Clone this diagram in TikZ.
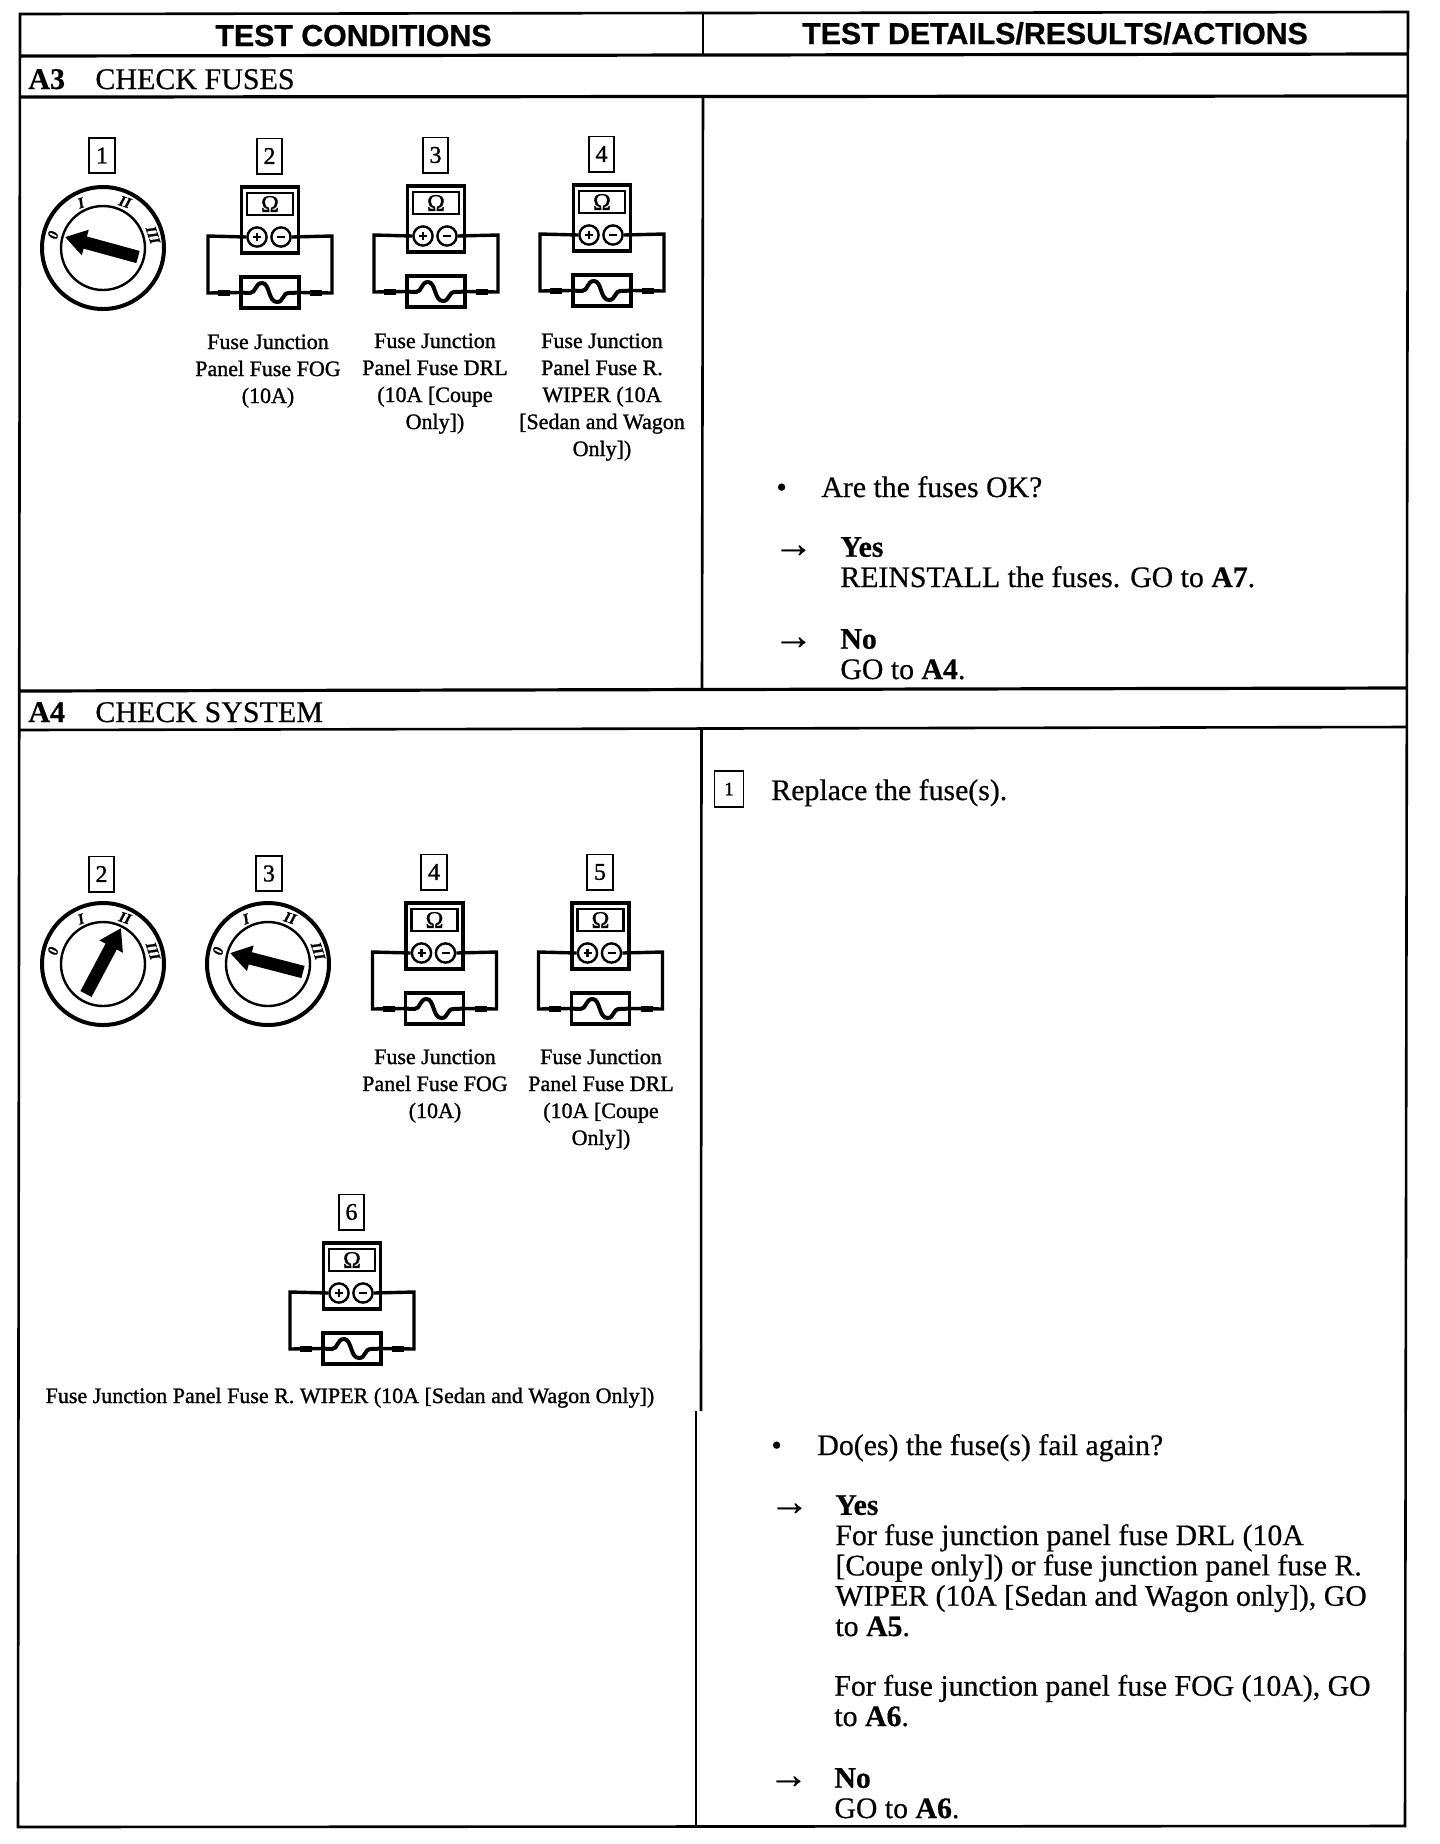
\documentclass[tikz,border=0pt]{standalone}
\usepackage{fontspec}
\setmainfont[FakeBold=0.5]{Liberation Serif}
\newfontfamily\headfont[FakeBold=0.8]{Liberation Sans}
\newfontfamily\capfont[FakeBold=1.2]{Liberation Serif}
\usetikzlibrary{arrows.meta,calc}
\newcommand{\fsz}[2]{\fontsize{#1pt}{#2pt}\selectfont}
\tikzset{
  gridline/.style={line width=1.3pt,black},
  bodytext/.style={anchor=base west,inner sep=0pt,align=left,font=\fsz{14.9}{15.15}},
  arrowtext/.style={anchor=base west,inner sep=0pt,font=\fsz{20}{20}},
  headtext/.style={anchor=base,inner sep=0pt,font=\headfont\bfseries\fsz{15.15}{16}},
  titletext/.style={anchor=base west,inner sep=0pt,font=\fsz{15}{16}},
  captext/.style={anchor=base,inner sep=0pt,align=center,font=\capfont\fsz{11}{13.5}},
  numbox/.style={draw,line width=.9pt,minimum width=12.8pt,minimum height=17.6pt,inner sep=0pt,font=\capfont\fsz{12}{12}},
  meterbody/.style={draw,line width=1.9pt,minimum width=28.5pt,minimum height=33pt,inner sep=0pt},
  meterscreen/.style={draw,line width=1.1pt,minimum width=23pt,minimum height=11pt,inner sep=0pt,font=\capfont\fsz{12}{12}},
  terminal/.style={draw,circle,line width=1.2pt,minimum size=9.6pt,inner sep=0pt},
  fusebox/.style={draw,line width=1.7pt,minimum width=29pt,minimum height=15.5pt,inner sep=0pt},
  wire/.style={line width=1.7pt,line join=miter},
  wirethick/.style={line width=3pt},
  dialouter/.style={draw,circle,line width=2pt,minimum size=61pt,inner sep=0pt},
  dialinner/.style={draw,circle,line width=1.2pt,minimum size=42pt,inner sep=0pt},
  dialmark/.style={inner sep=0pt,font=\capfont\itshape\fsz{7.5}{8}},
  dialarrow/.style={line width=6.3pt,-{Triangle[length=10.5pt,width=12.5pt]}},
}
% prefix, centre x, top y, number
\newcommand{\meterunit}[4]{%
  \begin{scope}[shift={(#2,#3)}]
    \node[numbox] (#1num) at (-0.5,-31) {#4};
    \node[meterbody] (#1body) at (0,33) {};
    \node[meterscreen] (#1screen) at (0,17) {Ω};
    \node[terminal] (#1plus) at (-13,50) {};
    \node[terminal] (#1minus) at (11,50) {};
    \node[fusebox] (#1fuse) at (0,105.5) {};
    \coordinate (#1tl) at (-62,49);
    \coordinate (#1tr) at (62,49);
    \coordinate (#1bl) at (-62,106);
    \coordinate (#1br) at (62,106);
    \coordinate (#1sl) at (-52,106);
    \coordinate (#1el) at (-40,106);
    \coordinate (#1sr) at (40,106);
    \coordinate (#1er) at (52,106);
    \draw[line width=1.2pt] (-17,50) -- (-9,50) (-13,46) -- (-13,54);
    \draw[line width=1.2pt] (7,50) -- (15,50);
    \draw[wire] (#1plus.west) -- (#1tl) -- (#1bl) -- (#1fuse.west);
    \draw[wire] (#1minus.east) -- (#1tr) -- (#1br) -- (#1fuse.east);
    \draw[wirethick] (#1sl) -- (#1el);
    \draw[wirethick] (#1sr) -- (#1er);
    \draw[line width=2pt] (#1fuse.west) -- (-20,106) .. controls (-14,106) and (-15,96) .. (-8,96) .. controls (0,96) and (-2,115) .. (7,115) .. controls (14,115) and (12,106) .. (19,106) -- (#1fuse.east);
  \end{scope}}
% prefix, centre x, centre y, tail, tip (relative to centre)
\newcommand{\dialunit}[5]{%
  \begin{scope}[shift={(#2,#3)}]
    \node[dialouter] (#1outer) at (0,0) {};
    \node[dialinner] (#1inner) at (0,0) {};
    \node[dialmark,rotate=75] (#1m0) at (-50,-13) {\textbf{0}};
    \node[dialmark,rotate=18] (#1m1) at (-22,-45) {\textbf{I}};
    \node[dialmark,rotate=-18] (#1m2) at (22,-46) {\textbf{II}};
    \node[dialmark,rotate=-72] (#1m3) at (50,-13) {\textbf{III}};
    \coordinate (#1tail) at (#4);
    \coordinate (#1tip) at (#5);
    \draw[dialarrow] (#1tail) -- (#1tip);
  \end{scope}}
\begin{document}
\begin{tikzpicture}[x=.5pt,y=-.5pt]
\fill[white] (0,0) rectangle (1440,1844);
\useasboundingbox (0,0) rectangle (1440,1844);
% table lines
\draw[gridline,line join=miter] (20,14) -- (1408,12) -- (1405,1826) -- (18,1827) -- cycle;
\draw[gridline,line width=1.6pt] (20,56) -- (1408,54);
\draw[gridline,line width=1.6pt] (20,97) -- (1408,96);
\draw[gridline] (703,13) -- (703,55);
\draw[gridline] (703,97) -- (702,689);
\draw[gridline,line width=1.6pt] (19,691) -- (1407,688);
\draw[gridline] (19,730) -- (1407,727);
\draw[gridline] (701.5,728) -- (701,1411);
\draw[gridline,line width=1pt] (696,1411) -- (696,1826);
% headers
\node[headtext] (h1) at (353.5,46) {TEST CONDITIONS};
\node[headtext] (h2) at (1055,44) {TEST DETAILS/RESULTS/ACTIONS};
\node[titletext] (a3id) at (28,89) {\textbf{A3}};
\node[titletext] (a3t) at (95,89) {CHECK FUSES};
\node[titletext] (a4id) at (28,722) {\textbf{A4}};
\node[titletext] (a4t) at (95,722) {CHECK SYSTEM};
% A3 left
\node[numbox] (a1num) at (102,155.5) {1};
\dialunit{a1}{103}{248}{35,9}{-38,-11}
\meterunit{a2}{270}{187}{2}
\node[captext] (a2c) at (268,403) {Fuse Junction\\Panel Fuse FOG\\(10A)};
\meterunit{a3}{436}{186}{3}
\node[captext] (a3c) at (435,429) {Fuse Junction\\Panel Fuse DRL\\(10A [Coupe\\Only])};
\meterunit{a4}{602}{185}{4}
\node[captext] (a4c) at (602,456) {Fuse Junction\\Panel Fuse R.\\WIPER (10A\\{[}Sedan and Wagon\\Only])};
% A3 right
\node[bodytext] (b1) at (776,497) {•};
\node[bodytext] (q1) at (821,497) {Are the fuses OK?};
\node[arrowtext] (ar1) at (773,557) {→};
\node[bodytext] (y1) at (840,587) {\textbf{Yes}\\REINSTALL the fuses. GO to \textbf{A7}.};
\node[arrowtext] (ar2) at (773,649) {→};
\node[bodytext] (n1) at (840,679) {\textbf{No}\\GO to \textbf{A4}.};
% A4 left
\node[numbox] (c2num) at (101.5,874) {2};
\dialunit{c2}{103}{964}{-17,30}{18,-36}
\node[numbox] (c3num) at (269,873.5) {3};
\dialunit{c3}{268}{964}{35,8}{-38,-11}
\meterunit{c4}{434.5}{903}{4}
\node[captext] (c4c) at (435,1118) {Fuse Junction\\Panel Fuse FOG\\(10A)};
\meterunit{c5}{600.5}{903}{5}
\node[captext] (c5c) at (601,1145) {Fuse Junction\\Panel Fuse DRL\\(10A [Coupe\\Only])};
\meterunit{c6}{352}{1243}{6}
\node[captext] (c6c) at (350,1403) {Fuse Junction Panel Fuse R. WIPER (10A [Sedan and Wagon Only])};
% A4 right
\node[numbox,minimum width=14.5pt,minimum height=18pt,font=\capfont\fsz{9.5}{10}] (d1num) at (729,789) {1};
\node[bodytext] (d1t) at (771,800) {Replace the fuse(s).};
\node[bodytext] (b2) at (771,1455) {•};
\node[bodytext] (q2) at (817,1455) {Do(es) the fuse(s) fail again?};
\node[arrowtext] (ar3) at (769,1515) {→};
\node[bodytext] (y2) at (835,1636) {\textbf{Yes}\\For fuse junction panel fuse DRL (10A\\{[}Coupe only]) or fuse junction panel fuse R.\\WIPER (10A [Sedan and Wagon only]), GO\\to \textbf{A5}.};
\node[bodytext] (f2) at (834,1726) {For fuse junction panel fuse FOG (10A), GO\\to \textbf{A6}.};
\node[arrowtext] (ar4) at (768,1788) {→};
\node[bodytext] (n2) at (834,1818) {\textbf{No}\\GO to \textbf{A6}.};
\end{tikzpicture}
\end{document}
